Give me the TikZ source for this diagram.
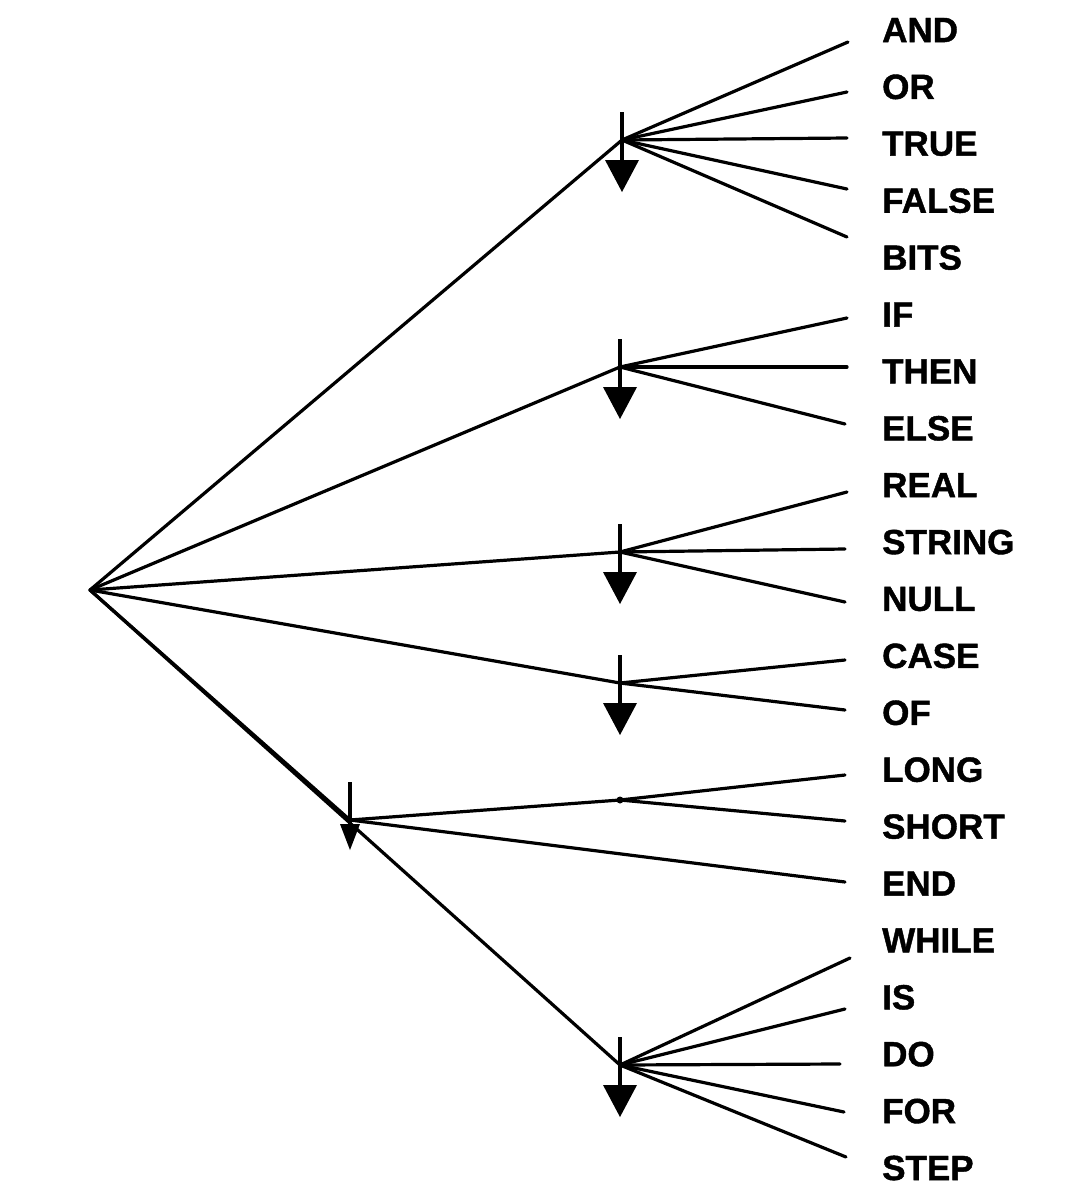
\documentclass[tikz,border=0pt]{standalone}
\usepackage{fontspec}
\setmainfont{Liberation Sans}
\newfontfamily\wordfont[FakeBold=1.2]{Liberation Sans Bold}
\begin{document}
\begin{tikzpicture}[x=1pt,y=-1pt,
  edge/.style={line width=3.2pt, line cap=round},
  word/.style={anchor=west, inner sep=0pt, font=\fontsize{35}{40}\wordfont},
  downmark/.pic={\draw[line width=4pt] (0,-28) -- (0,22); \fill (-17,20) -- (17,20) -- (0,52) -- cycle;},
  smallmark/.pic={\draw[line width=4pt] (0,-38) -- (0,6); \fill (-10,4) -- (10,4) -- (0,30) -- cycle;}]
\useasboundingbox (0,0) rectangle (1086,1200);

% branch points
\coordinate (root) at (90,590);
\coordinate (n1) at (622,140);
\coordinate (n2) at (620,367);
\coordinate (n3) at (620,552);
\coordinate (n4) at (620,683);
\coordinate (mid) at (350,820);
\coordinate (n5) at (620,800);
\coordinate (n6) at (620,1065);

% words
\foreach \w [count=\i from 0] in {AND,OR,TRUE,FALSE,BITS,IF,THEN,ELSE,REAL,STRING,NULL,CASE,OF,LONG,SHORT,END,WHILE,IS,DO,FOR,STEP}
  \node[word] (w\i) at (882,{30+56.9*\i}) {\w};

% free ends of the connectors
\foreach \i/\x/\y in {0/848/42,1/847/92,2/847/138,3/847/189,4/847/237,
  5/847/318,6/847/367,7/845/424,8/847/492,9/845/549,10/845/602,
  11/845/660,12/845/710,13/845/775,14/845/821,15/845/882,
  16/850/958,17/845/1009,18/840/1064,19/844/1112,20/846/1157}
  \coordinate (e\i) at (\x,\y);

% connectors
\foreach \t in {n1,n2,n3,n4,mid,n6} \draw[edge] (root) -- (\t);
\foreach \i in {0,...,4} \draw[edge] (n1) -- (e\i);
\foreach \i in {5,6,7} \draw[edge] (n2) -- (e\i);
\foreach \i in {8,9,10} \draw[edge] (n3) -- (e\i);
\foreach \i in {11,12} \draw[edge] (n4) -- (e\i);
\draw[edge] (mid) -- (n5);
\draw[edge] (mid) -- (e15);
\foreach \i in {13,14} \draw[edge] (n5) -- (e\i);
\foreach \i in {16,...,20} \draw[edge] (n6) -- (e\i);
\fill (n5) circle (3.5pt);

% down arrows
\foreach \t in {n1,n2,n3,n4,n6} \pic at (\t) {downmark};
\pic at (mid) {smallmark};
\end{tikzpicture}
\end{document}
